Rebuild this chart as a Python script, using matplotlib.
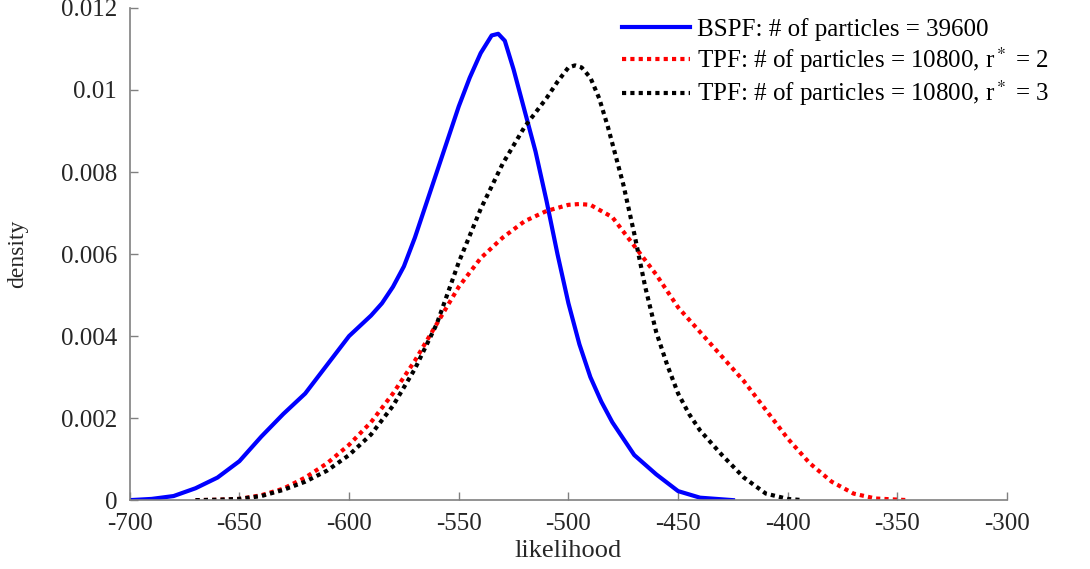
import matplotlib
matplotlib.use("Agg")
import matplotlib.pyplot as plt
import numpy as np

plt.rcParams['font.family'] = ['Liberation Serif', 'DejaVu Serif']
plt.rcParams['mathtext.fontset'] = 'stix'
plt.rcParams['axes.unicode_minus'] = False

# BSPF curve
bspf_x = [-700, -690, -680, -670, -660, -650, -640, -630, -620, -610, -600, -590,
          -585, -580, -575, -570, -565, -560, -555, -550, -545, -540, -535, -532,
          -529, -525, -520, -515, -510, -505, -500, -495, -490, -485, -480, -475,
          -470, -460, -450, -440, -425]
bspf_y = [0.0, 0.00003, 0.0001, 0.00029, 0.00055, 0.00095, 0.00155, 0.0021, 0.0026,
          0.0033, 0.0040, 0.0045, 0.0048, 0.0052, 0.0057, 0.0064, 0.0072, 0.0080,
          0.0088, 0.0096, 0.0103, 0.0109, 0.01133, 0.01137, 0.0112, 0.0105, 0.0095,
          0.0085, 0.0073, 0.0060, 0.0048, 0.0038, 0.0030, 0.0024, 0.0019, 0.0015,
          0.0011, 0.00063, 0.00022, 0.00006, 0.0]

# TPF r*=2
tpf2_x = [-670, -660, -650, -640, -630, -620, -610, -600, -590, -580, -570, -560,
          -550, -540, -530, -520, -510, -500, -495, -490, -480, -470, -460, -450,
          -440, -430, -420, -410, -400, -390, -380, -370, -360, -345]
tpf2_y = [0.0, 0.00001, 0.00003, 0.00012, 0.00028, 0.00055, 0.0009, 0.00135, 0.0019,
          0.0026, 0.0034, 0.0043, 0.0052, 0.0059, 0.0064, 0.0068, 0.00705, 0.0072,
          0.00722, 0.0072, 0.0069, 0.0062, 0.0055, 0.0047, 0.0041, 0.0035, 0.0029,
          0.0022, 0.0015, 0.0009, 0.00045, 0.00016, 0.00004, 0.0]

# TPF r*=3
tpf3_x = [-670, -660, -650, -640, -630, -620, -610, -600, -590, -580, -570, -560,
          -550, -540, -530, -520, -510, -505, -500, -497, -494, -490, -486, -482,
          -478, -475, -470, -465, -460, -455, -450, -445, -440, -430, -420, -410,
          -400, -393]
tpf3_y = [0.0, 0.00001, 0.00003, 0.0001, 0.00025, 0.00045, 0.00072, 0.0011, 0.0016,
          0.0023, 0.0032, 0.0043, 0.0058, 0.0071, 0.0082, 0.0091, 0.0098, 0.0102,
          0.01055, 0.0106, 0.01055, 0.0103, 0.0098, 0.0091, 0.0083, 0.0077, 0.0065,
          0.0052, 0.0041, 0.0033, 0.0026, 0.0021, 0.0017, 0.0011, 0.00055, 0.00016,
          0.00003, 0.0]

labels = ['BSPF: # of particles = 39600',
          'TPF: # of particles = 10800, r$^*$ = 2',
          'TPF: # of particles = 10800, r$^*$ = 3']

fig = plt.figure(figsize=(10.9, 5.69), dpi=100)
ax = fig.add_axes([0.119, 0.121, 0.805, 0.865])

ax.plot(bspf_x, bspf_y, color='#0000ff', lw=3, solid_joinstyle='round', label=labels[0])
ax.plot(tpf2_x, tpf2_y, color='#ff0000', lw=3, ls=(0, (1, 1)), label=labels[1])
ax.plot(tpf3_x, tpf3_y, color='black', lw=3, ls=(0, (1, 1)), label=labels[2])

ax.set_xlim(-700, -300)
ax.set_ylim(0, 0.012)
ax.set_xticks(np.arange(-700, -299, 50))
ax.set_yticks([0, 0.002, 0.004, 0.006, 0.008, 0.01, 0.012])
ax.set_yticklabels(['0', '0.002', '0.004', '0.006', '0.008', '0.01', '0.012'])

for s in ['top', 'right']:
    ax.spines[s].set_visible(False)
for s in ['left', 'bottom']:
    ax.spines[s].set_color('#808080')
    ax.spines[s].set_linewidth(1.2)
ax.tick_params(direction='in', length=6, width=1, color='#808080',
               labelsize=18, labelcolor='#262626')
ax.tick_params(axis='x', pad=9)
ax.tick_params(axis='y', pad=9)

ax.set_xlabel('likelihood', fontsize=19, color='#262626', labelpad=4)
ax.set_ylabel('density', fontsize=17, color='#262626', labelpad=24)

fig.legend(loc='upper left', bbox_to_anchor=(622 / 1090, 0.968), frameon=False,
           fontsize=18, handlelength=2.7, handletextpad=0.3, labelspacing=0.15,
           borderpad=0, borderaxespad=0)

fig.savefig('out.png', dpi=100)
